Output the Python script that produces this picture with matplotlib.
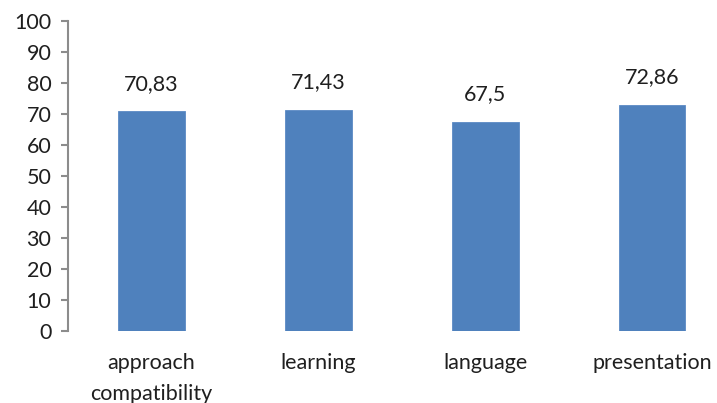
import matplotlib
matplotlib.use("Agg")
import matplotlib.pyplot as plt

categories = ["approach\ncompatibility", "learning", "language", "presentation"]
values = [70.83, 71.43, 67.5, 72.86]
value_labels = ["70,83", "71,43", "67,5", "72,86"]
yticks = [0, 10, 20, 30, 40, 50, 60, 70, 80, 90, 100]

plt.rcParams['font.family'] = ['Lato', 'DejaVu Sans']
text_color = "#1f1f1f"
fs = 15.5

fig = plt.figure(figsize=(7.17, 4.03), dpi=100)
ax = fig.add_axes([68/717, 1-331/403, (735.5-68)/717, (331-21)/403])

x = list(range(len(categories)))
bars = ax.bar(x, values, width=0.4, color="#4F81BD", edgecolor="#5B8AC4", linewidth=0.6)
for xi, v, lab in zip(x, values, value_labels):
    ax.annotate(lab, (xi, v), xytext=(0, 20), textcoords="offset points",
                ha="center", va="center", fontsize=fs, color=text_color)

ax.set_xlim(-0.5, 3.5)
ax.set_ylim(0, 100)
ax.set_yticks(yticks)
ax.set_yticklabels([str(t) for t in yticks], fontsize=fs, color=text_color)
ax.set_xticks(x)
ax.set_xticklabels(categories, fontsize=fs, color=text_color, linespacing=1.65)
ax.tick_params(axis="x", length=0, pad=16)
ax.tick_params(axis="y", length=5, width=1.5, color="#8c8c8c", pad=7, direction="out")
for s in ["top", "right", "bottom"]:
    ax.spines[s].set_visible(False)
ax.spines["left"].set_color("#8c8c8c")
ax.spines["left"].set_linewidth(1.5)

fig.savefig("out.png", dpi=100)
